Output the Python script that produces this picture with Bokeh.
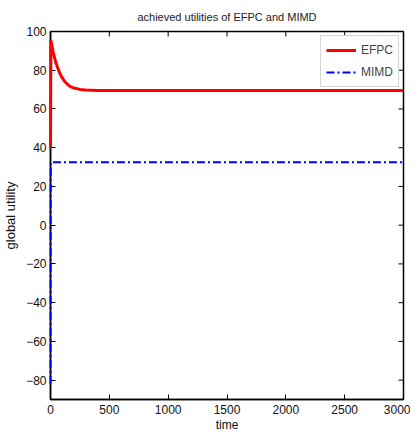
import math
from bokeh.plotting import figure
from bokeh.models import Range1d, Legend, LegendItem, FixedTicker
from bokeh.embed import file_html
from bokeh.resources import INLINE

# EFPC achieved utility
efpc_time = [0, 3, 10, 20, 30, 40, 50, 60, 80, 100, 125, 150, 175, 200, 250, 300, 350, 400, 500, 1000, 2000, 3000]
efpc_util = [40, 95.5, 93.2, 90.2, 87.5, 85.2, 83.2, 81.4, 78.3, 76.0, 73.9, 72.4, 71.4, 70.8, 70.1, 69.8, 69.7, 69.6, 69.6, 69.6, 69.6, 69.6]

# MIMD achieved utility
mimd_time = [0, 2, 3000]
mimd_util = [-82, 32.5, 32.5]

x_ticks = [0, 500, 1000, 1500, 2000, 2500, 3000]
y_ticks = [-80, -60, -40, -20, 0, 20, 40, 60, 80, 100]
x_min, x_max = 0, 3000
y_min, y_max = -90, 100

FONT = "Liberation Sans"

p = figure(frame_width=353, frame_height=368, output_backend="svg", toolbar_location=None,
           x_range=Range1d(x_min, x_max), y_range=Range1d(y_min, y_max),
           min_border_left=43, min_border_right=7, min_border_top=8, min_border_bottom=28,
           background_fill_color="white", border_fill_color="white")

p.title.text = "achieved utilities of EFPC and MIMD"
p.title.align = "center"
p.title.text_font = FONT
p.title.text_font_size = "11px"
p.title.text_font_style = "normal"
p.title.text_color = "#222222"
p.title.standoff = 17

p.xgrid.visible = False
p.ygrid.visible = False
p.outline_line_color = "black"
p.outline_line_width = 1.5

def style_axis(ax, ticks):
    ax.ticker = FixedTicker(ticks=ticks)
    ax.major_tick_in = 5
    ax.major_tick_out = 0
    ax.minor_tick_in = 0
    ax.minor_tick_out = 0
    ax.axis_line_color = "black"
    ax.axis_line_width = 1.5
    ax.major_tick_line_color = "black"
    ax.major_label_text_font = FONT
    ax.major_label_text_font_size = "12px"
    ax.major_label_text_color = "#111111"
    ax.axis_label_text_font = FONT
    ax.axis_label_text_font_size = "12px"
    ax.axis_label_text_font_style = "normal"
    ax.axis_label_text_color = "#111111"

style_axis(p.xaxis[0], x_ticks)
style_axis(p.yaxis[0], y_ticks)
p.xaxis[0].axis_label = "time"
p.yaxis[0].axis_label = "global utility"
p.yaxis[0].axis_label_text_font_size = "13px"
p.xaxis[0].major_label_standoff = 5
p.xaxis[0].axis_label_standoff = 1
p.yaxis[0].major_label_standoff = 4
p.yaxis[0].axis_label_standoff = 5

# inward ticks on the top and right edges of the box (no labels)
p.ray(x=x_ticks, y=[y_max] * len(x_ticks), length=5, length_units="screen",
      angle=-math.pi / 2, line_color="black", line_width=1)
p.ray(x=[x_max] * len(y_ticks), y=y_ticks, length=5, length_units="screen",
      angle=math.pi, line_color="black", line_width=1)

r_efpc = p.line(efpc_time, efpc_util, line_color="#ff0000", line_width=3, level="overlay")
r_mimd = p.line(mimd_time, mimd_util, line_color="#0000ff", line_width=2, line_dash="8 3 2 3",
                level="overlay")

legend = Legend(items=[LegendItem(label="EFPC", renderers=[r_efpc]),
                       LegendItem(label="MIMD", renderers=[r_mimd])],
                location="top_right",
                label_text_font=FONT, label_text_font_size="12px",
                border_line_color="#aaaaaa", border_line_width=1,
                background_fill_color="white", background_fill_alpha=1,
                glyph_width=30, glyph_height=18, spacing=4, padding=5, margin=4,
                label_standoff=5)
p.add_layout(legend)

open("out.html", "w").write(file_html(p, INLINE))
